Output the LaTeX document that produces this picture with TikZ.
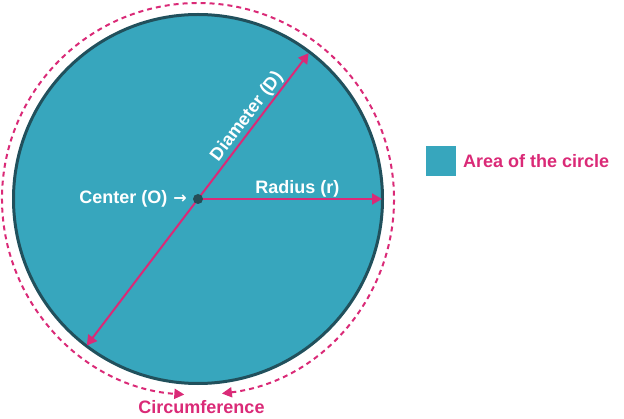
\documentclass[tikz,border=0pt]{standalone}
\usepackage{fontspec}
\setmainfont{Liberation Sans}
\newfontfamily\djv{DejaVu Sans}
\usetikzlibrary{arrows.meta}
\definecolor{circfill}{HTML}{37A6BD}
\definecolor{circline}{HTML}{21505C}
\definecolor{pinkc}{HTML}{DA2A77}
\definecolor{dotc}{HTML}{264D57}
\begin{document}
\begin{tikzpicture}[x=1pt,y=1pt,
  lbl/.style={font=\bfseries\fontsize{18}{21}\selectfont, text=white, inner sep=2pt},
  pinklbl/.style={font=\bfseries\fontsize{18}{21}\selectfont, text=pinkc, inner sep=2pt},
  pinkline/.style={draw=pinkc, line width=2pt},
]
\useasboundingbox (0,0) rectangle (624,418);
% main circle
\node[circle, draw=circline, line width=3pt, fill=circfill, minimum size=369pt, inner sep=0pt] (C) at (198,219) {};
% end points
\path (C.center) ++(52.8:183) coordinate (D1);
\path (C.center) ++(232.8:184) coordinate (D2);
\path (C.center) ++(0:184) coordinate (R);
% diameter and radius
\draw[pinkline, {Triangle[length=10pt,width=11pt]}-{Triangle[length=10pt,width=11pt]}] (D2) -- (D1);
\draw[pinkline, -{Triangle[length=10pt,width=11pt]}] (C.center) -- (R);
% center dot
\node[circle, fill=dotc, minimum size=10pt, inner sep=0pt] (O) at (C.center) {};
% labels
\path (C.center) -- (D1) node[pos=0.52, sloped, above, lbl] (dl) {Diameter (D)};
\path (C.center) -- (R) node[pos=0.54, above, lbl] (rl) {Radius (r)};
\node[lbl, anchor=east] (cl) at ([xshift=-9pt]O.center) {Center (O)\hspace{6pt}{\djv\fontsize{16}{18}\selectfont\bfseries →}};
% circumference
\path (C.center) ++(277:196) coordinate (A1);
\draw[pinkline, dash pattern=on 5pt off 4pt, {Triangle[length=10pt,width=10pt]}-{Triangle[length=10pt,width=10pt]}] (A1) arc[start angle=277, end angle=626, radius=196];
\node[pinklbl] (cf) at (201.5,11) {Circumference};
% legend
\node[fill=circfill, minimum size=30pt, inner sep=0pt] (sq) at (441,257) {};
\node[pinklbl, anchor=west] (al) at (461,257) {Area of the circle};
\end{tikzpicture}
\end{document}
